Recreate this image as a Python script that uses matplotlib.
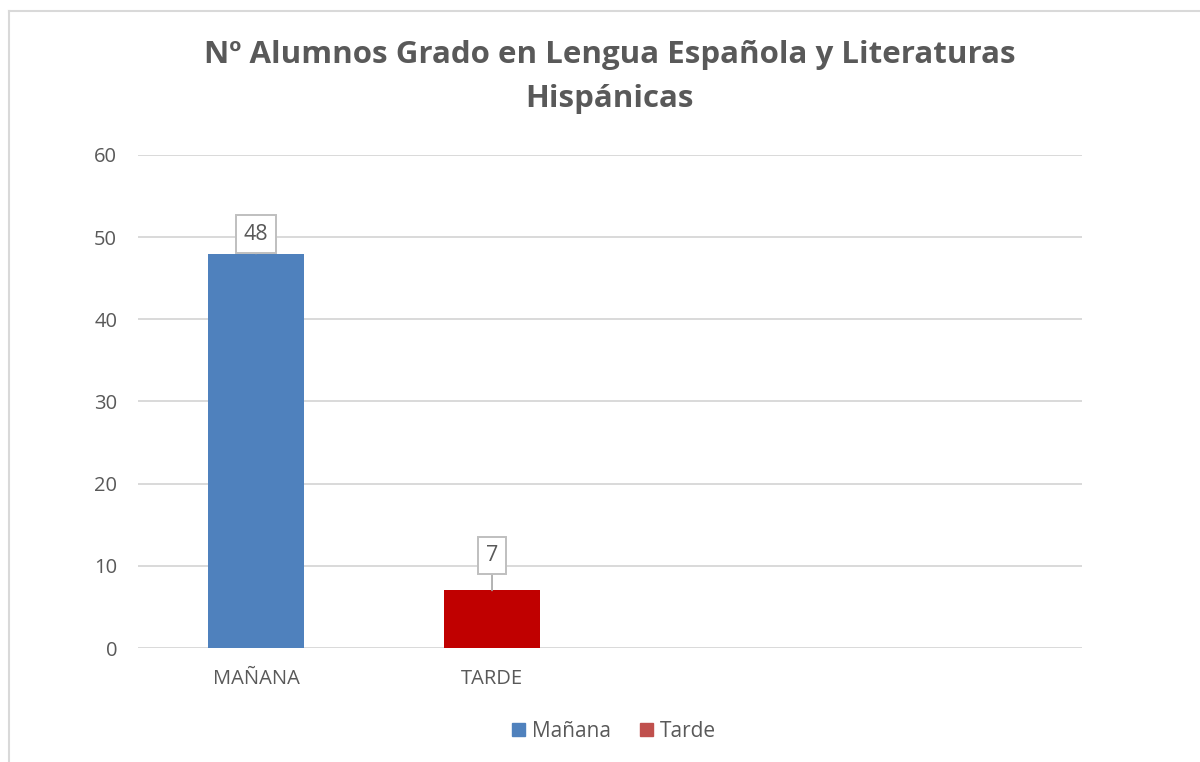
import matplotlib.pyplot as plt
from matplotlib.lines import Line2D
from matplotlib.patches import Patch

# Data
categories = ["MAÑANA", "TARDE", "", ""]
series_names = ["Mañana", "Tarde"]
values = [48, 7]
bar_colors = ["#4F81BD", "#C00000"]
legend_colors = ["#4F81BD", "#C0504D"]
y_ticks = [0, 10, 20, 30, 40, 50, 60]
title = "Nº Alumnos Grado en Lengua Española y Literaturas\nHispánicas"

plt.rcParams['font.family'] = ['Open Sans', 'DejaVu Sans']
txt = "#595959"

fig = plt.figure(figsize=(12, 7.62), dpi=100)
ax = fig.add_axes([0.115, 0.1496, 0.7867, 0.647])

x = range(len(categories))
ax.bar(list(x)[:len(values)], values, width=0.405, color=bar_colors, zorder=3)

# data labels with a leader line (offsets in points)
offsets = [14, 25]
for i, v in enumerate(values):
    ax.annotate(str(v), xy=(i, v), xytext=(0, offsets[i]), textcoords="offset points",
                ha="center", va="center", fontsize=15.5, color=txt, zorder=5,
                bbox=dict(boxstyle="square,pad=0.38", fc="white", ec="#BFBFBF", lw=1.4),
                arrowprops=dict(arrowstyle="-", color="#A6A6A6", lw=1.2, shrinkA=0, shrinkB=0))

ax.set_xlim(-0.5, len(categories) - 0.5)
ax.set_ylim(0, 60)
ax.set_yticks(y_ticks)
ax.set_xticks(list(x))
ax.set_xticklabels(categories)
ax.tick_params(axis="both", length=0, labelsize=14.5, labelcolor=txt)
ax.tick_params(axis="x", pad=15)
ax.tick_params(axis="y", pad=15)
ax.grid(axis="y", color="#D9D9D9", lw=1.4, zorder=0)
for s in ax.spines.values():
    s.set_visible(False)

fig.text(0.508, 0.899, title, ha="center", va="center", fontsize=22.5,
         fontweight="bold", color=txt, linespacing=1.6)

handles = [Patch(color=c, label=n) for c, n in zip(legend_colors, series_names)]
fig.legend(handles=handles, loc="center", bbox_to_anchor=(0.512, 0.04), ncol=2,
           frameon=False, fontsize=15, handlelength=0.6, handleheight=0.6,
           handletextpad=0.35, columnspacing=1.4, labelcolor=txt)

# chart frame (left and top edges visible)
fig.add_artist(Line2D([0.0075, 0.0075], [0, 0.986], color="#D9D9D9", lw=1.5))
fig.add_artist(Line2D([0.0075, 1.0], [0.986, 0.986], color="#D9D9D9", lw=1.5))

fig.savefig("out.png", dpi=100, facecolor="white")
